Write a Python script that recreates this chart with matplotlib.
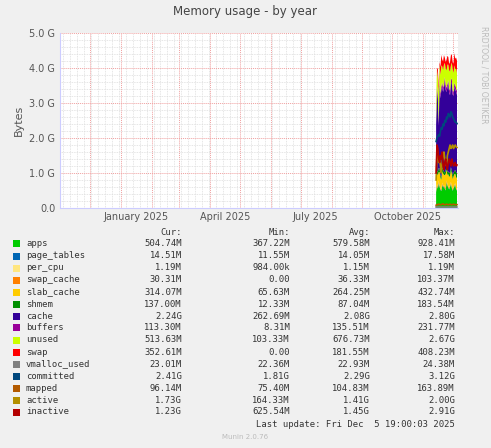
import matplotlib
matplotlib.use("Agg")
import matplotlib.pyplot as plt
import matplotlib.dates as mdates
import numpy as np
import datetime as dt

# dati (GB), un punto al giorno dal 14 novembre 2025
start = dt.datetime(2025, 11, 14)
days = [start + dt.timedelta(hours=21 * i) for i in range(25)]

apps        = [0.45, 0.62, 0.55, 0.70, 0.60, 0.52, 0.48, 0.66, 0.58, 0.62, 0.55, 0.50, 0.72, 0.64, 0.58, 0.53, 0.60, 0.68, 0.57, 0.49, 0.55, 0.61, 0.66, 0.52, 0.50]
page_tables = [0.014, 0.015, 0.015, 0.016, 0.014, 0.013, 0.014, 0.015, 0.016, 0.017, 0.014, 0.013, 0.014, 0.015, 0.014, 0.013, 0.014, 0.015, 0.014, 0.014, 0.013, 0.014, 0.015, 0.014, 0.0145]
per_cpu     = [0.0012] * 25
swap_cache  = [0.02, 0.05, 0.04, 0.06, 0.03, 0.02, 0.04, 0.05, 0.03, 0.02, 0.04, 0.06, 0.05, 0.03, 0.02, 0.04, 0.03, 0.05, 0.04, 0.03, 0.02, 0.04, 0.03, 0.03, 0.03]
slab_cache  = [0.30, 0.28, 0.34, 0.25, 0.38, 0.30, 0.27, 0.32, 0.36, 0.29, 0.33, 0.40, 0.31, 0.26, 0.35, 0.30, 0.28, 0.33, 0.37, 0.29, 0.32, 0.30, 0.27, 0.31, 0.31]
shmem       = [0.08, 0.10, 0.09, 0.12, 0.10, 0.08, 0.07, 0.11, 0.13, 0.09, 0.08, 0.10, 0.12, 0.09, 0.08, 0.11, 0.10, 0.09, 0.08, 0.12, 0.10, 0.09, 0.11, 0.14, 0.137]
cache       = [1.50, 2.30, 2.10, 1.20, 2.40, 2.20, 2.50, 2.30, 2.20, 2.40, 2.60, 2.30, 2.10, 2.40, 2.50, 2.30, 2.20, 2.40, 2.50, 2.30, 2.20, 2.40, 2.30, 2.30, 2.24]
buffers     = [0.05, 0.12, 0.10, 0.08, 0.15, 0.12, 0.10, 0.14, 0.12, 0.10, 0.13, 0.15, 0.12, 0.11, 0.10, 0.14, 0.12, 0.10, 0.13, 0.12, 0.11, 0.12, 0.13, 0.11, 0.113]
unused      = [0.60, 0.45, 0.50, 0.90, 0.40, 0.55, 0.60, 0.45, 0.50, 0.55, 0.40, 0.45, 0.50, 0.55, 0.45, 0.50, 0.55, 0.40, 0.45, 0.60, 0.55, 0.50, 0.45, 0.55, 0.51]
swap        = [0.00, 0.05, 0.25, 0.15, 0.10, 0.22, 0.30, 0.20, 0.25, 0.28, 0.15, 0.20, 0.30, 0.25, 0.22, 0.18, 0.28, 0.30, 0.24, 0.20, 0.26, 0.35, 0.30, 0.32, 0.35]
vmalloc     = [0.023] * 25
committed   = [1.90, 2.00, 2.05, 2.10, 2.05, 2.20, 2.30, 2.25, 2.40, 2.35, 2.50, 2.45, 2.60, 2.55, 2.70, 2.65, 2.60, 2.75, 2.70, 2.60, 2.55, 2.50, 2.45, 2.45, 2.41]
mapped      = [0.08, 0.10, 0.09, 0.11, 0.10, 0.09, 0.10, 0.11, 0.12, 0.10, 0.09, 0.10, 0.11, 0.10, 0.09, 0.10, 0.11, 0.10, 0.09, 0.10, 0.11, 0.10, 0.09, 0.10, 0.096]
active      = [0.80, 1.50, 1.60, 1.30, 1.40, 1.20, 1.00, 1.30, 1.50, 1.60, 1.40, 1.30, 1.20, 1.50, 1.60, 1.70, 1.80, 1.70, 1.75, 1.80, 1.70, 1.75, 1.80, 1.75, 1.73]
inactive    = [1.00, 1.80, 1.70, 1.40, 1.30, 1.50, 1.40, 1.60, 1.20, 1.10, 1.30, 1.40, 1.20, 1.10, 1.30, 1.40, 1.30, 1.20, 1.40, 1.30, 1.20, 1.25, 1.30, 1.20, 1.23]

names = ["apps", "page_tables", "per_cpu", "swap_cache", "slab_cache", "shmem", "cache",
         "buffers", "unused", "swap", "vmalloc_used", "committed", "mapped", "active", "inactive"]
cur_txt = ["504.74M", "14.51M", "1.19M", "30.31M", "314.07M", "137.00M", "2.24G", "113.30M",
           "513.63M", "352.61M", "23.01M", "2.41G", "96.14M", "1.73G", "1.23G"]
min_txt = ["367.22M", "11.55M", "984.00k", "0.00", "65.63M", "12.33M", "262.69M", "8.31M",
           "103.33M", "0.00", "22.36M", "1.81G", "75.40M", "164.33M", "625.54M"]
avg_txt = ["579.58M", "14.05M", "1.15M", "36.33M", "264.25M", "87.04M", "2.08G", "135.51M",
           "676.73M", "181.55M", "22.93M", "2.29G", "104.83M", "1.41G", "1.45G"]
max_txt = ["928.41M", "17.58M", "1.19M", "103.37M", "432.74M", "183.54M", "2.80G", "231.77M",
           "2.67G", "408.23M", "24.38M", "3.12G", "163.89M", "2.00G", "2.91G"]

colors = ["#00CC00", "#0066B3", "#FFE680", "#FF8000", "#FFCC00", "#008F00", "#330099",
          "#990099", "#CCFF00", "#FF0000", "#808080", "#00487D", "#B35A00", "#B38F00", "#B30000"]

fig = plt.figure(figsize=(4.91, 4.48), dpi=100, facecolor="#F0F0F0")
ax = fig.add_axes([60 / 491, 1 - 208 / 448, 398 / 491, 175 / 448])
ax.set_facecolor("white")

stack = [apps, page_tables, per_cpu, swap_cache, slab_cache, shmem, cache, buffers, unused, swap]
ax.stackplot(days, *stack, colors=colors[:10], linewidth=0)
for vals, c in zip([vmalloc, committed, mapped, active, inactive], colors[10:]):
    ax.plot(days, vals, color=c, linewidth=1.2)

ax.set_xlim(dt.datetime(2024, 11, 1), dt.datetime(2025, 12, 6))
ax.set_ylim(0, 5.0)
ax.set_yticks(np.arange(0, 5.1, 1.0))
ax.set_yticklabels(["0.0", "1.0 G", "2.0 G", "3.0 G", "4.0 G", "5.0 G"])
ax.set_yticks(np.arange(0, 5.01, 0.2), minor=True)
ax.xaxis.set_major_locator(mdates.MonthLocator())
ax.xaxis.set_minor_locator(mdates.WeekdayLocator(byweekday=0))
ax.set_xticklabels([])
ax.grid(True, which="minor", color="#DDDDDD", linestyle=(0, (1, 1)), linewidth=0.6)
ax.grid(True, which="major", color="#F0A0A0", linestyle=(0, (1, 1)), linewidth=0.7)
ax.set_axisbelow(True)
ax.tick_params(which="both", length=0, labelsize=7, colors="#555555")
for s in ["top", "right"]:
    ax.spines[s].set_visible(False)
for s in ["left", "bottom"]:
    ax.spines[s].set_color("#CCCCFF")

for lbl, d in [("January 2025", dt.datetime(2025, 1, 16)), ("April 2025", dt.datetime(2025, 4, 16)),
               ("July 2025", dt.datetime(2025, 7, 16)), ("October 2025", dt.datetime(2025, 10, 16))]:
    ax.text(d, -0.12, lbl, ha="center", va="top", fontsize=7, color="#555555")

ax.set_ylabel("Bytes", fontsize=8, color="#555555")
fig.text(245 / 491, 1 - 12 / 448, "Memory usage - by year", ha="center", va="center", fontsize=8.5, color="#444444")
fig.text(484 / 491, 1 - 75 / 448, "RRDTOOL / TOBI OETIKER", rotation=270, ha="center", va="center",
         fontsize=5.5, color="#BBBBBB")

mono = "DejaVu Sans Mono"
fs = 6.4
def yy(py):
    return 1 - py / 448
for x, h in [(182, "Cur:"), (290, "Min:"), (370, "Avg:"), (455, "Max:")]:
    fig.text(x / 491, yy(232), h, ha="right", va="center", family=mono, fontsize=fs, color="#333333")
for i, n in enumerate(names):
    py = 244 + i * 12.0
    fig.patches.append(plt.Rectangle((13 / 491, yy(py + 3.5)), 7 / 491, 7 / 448, transform=fig.transFigure,
                                     facecolor=colors[i], edgecolor="none"))
    fig.text(26 / 491, yy(py), n, ha="left", va="center", family=mono, fontsize=fs, color="#333333")
    for x, t in [(182, cur_txt[i]), (290, min_txt[i]), (370, avg_txt[i]), (455, max_txt[i])]:
        fig.text(x / 491, yy(py), t, ha="right", va="center", family=mono, fontsize=fs, color="#333333")
fig.text(455 / 491, yy(424), "Last update: Fri Dec  5 19:00:03 2025", ha="right", va="center",
         family=mono, fontsize=fs, color="#333333")
fig.text(245 / 491, yy(437), "Munin 2.0.76", ha="center", va="center", fontsize=5, color="#BBBBBB")

fig.savefig("out.png", dpi=100, facecolor=fig.get_facecolor())
